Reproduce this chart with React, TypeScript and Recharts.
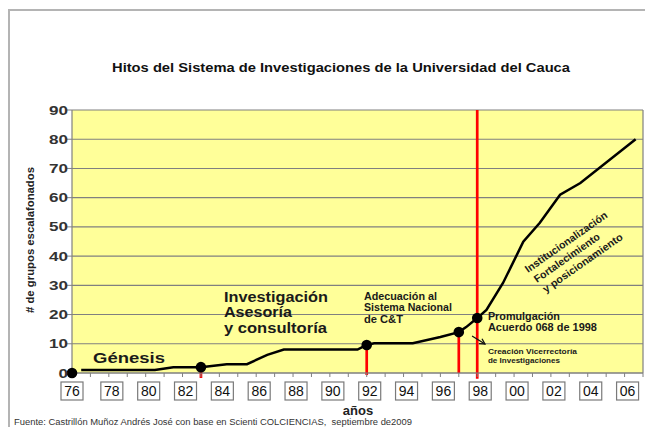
import React from 'react';
import { LineChart, Line, XAxis, YAxis, CartesianGrid, ReferenceLine, ReferenceDot } from 'recharts';

const FONT = '"Liberation Sans", Arial, sans-serif';

// grupos escalafonados por año
const seriesYears = [1976.5, 1980.5, 1981.5, 1983, 1984.4, 1985.5, 1986.6, 1987.5, 1991.5, 1992, 1992.4, 1994.5, 1996, 1997, 1997.4, 1998, 1998.5, 1999.4, 2000.5, 2001.4, 2002.5, 2003.6, 2006.6];
const seriesValues = [1, 1, 2, 2, 3, 3, 6.2, 8, 8, 9.6, 10.2, 10.2, 12.3, 14, 15.7, 18.8, 21.6, 30.8, 44.9, 51.4, 61, 65, 80];

const yTicks = [0, 10, 20, 30, 40, 50, 60, 70, 80, 90];
const xTickYears = [
  1976, 1977, 1978, 1979, 1980, 1981, 1982, 1983, 1984, 1985, 1986, 1987, 1988, 1989, 1990, 1991,
  1992, 1993, 1994, 1995, 1996, 1997, 1998, 1999, 2000, 2001, 2002, 2003, 2004, 2005, 2006, 2007,
];
const labelYears = [1976, 1978, 1980, 1982, 1984, 1986, 1988, 1990, 1992, 1994, 1996, 1998, 2000, 2002, 2004, 2006];
const labelTexts = ['76', '78', '80', '82', '84', '86', '88', '90', '92', '94', '96', '98', '00', '02', '04', '06'];

// hitos
const milestoneYears = [1976, 1983, 1992, 1997, 1998];
const milestoneValues = [0, 2, 9.6, 14, 18.8];

// líneas rojas
const redYears = [1983, 1992, 1997, 1998];
const redTop = [2, 9.6, 14, 90];
const redBottom = [-1.7, -0.7, 0, -2];

type Note = {
  year: number;
  value: number;
  size: number;
  lead: number;
  angle?: number;
  color?: string;
  lines: { text: string; width: number }[];
};

const notes: Note[] = [
  { year: 1977.14, value: 3.4, size: 15.5, lead: 0, lines: [{ text: 'Génesis', width: 72 }] },
  {
    year: 1984.25, value: 24.3, size: 14.5, lead: 15.5,
    lines: [
      { text: 'Investigación', width: 104 },
      { text: 'Asesoría', width: 68 },
      { text: 'y consultoría', width: 103 },
    ],
  },
  {
    year: 1991.85, value: 25, size: 10.5, lead: 11.5,
    lines: [
      { text: 'Adecuación al', width: 73 },
      { text: 'Sistema Nacional', width: 88 },
      { text: 'de C&T', width: 39 },
    ],
  },
  {
    year: 1998.58, value: 18.1, size: 11, lead: 11,
    lines: [
      { text: 'Promulgación', width: 72 },
      { text: 'Acuerdo 068 de 1998', width: 109 },
    ],
  },
  {
    year: 1998.58, value: 6.5, size: 7.5, lead: 9,
    lines: [
      { text: 'Creación Vicerrectoría', width: 89 },
      { text: 'de Investigaciones', width: 72 },
    ],
  },
  {
    year: 2000.76, value: 34.2, size: 10.5, lead: 13.3, angle: -35,
    lines: [
      { text: 'Institucionalización', width: 98 },
      { text: 'Fortalecimiento', width: 78 },
      { text: 'y posicionamiento', width: 95 },
    ],
  },
];

// flecha hacia "Creación Vicerrectoría"
const arrowFrom = { year: 1997.72, value: 12.66 };
const arrowTo = { year: 1998.42, value: 9.92 };

const data = seriesYears.map((year, i) => ({ year, value: seriesValues[i] }));

const XTick = (props: any) => {
  const { x, y, payload } = props;
  const i = labelYears.indexOf(payload.value);
  if (i < 0) return null;
  const cx = x + (i > 0 ? 3 : 0);
  return (
    <g>
      <rect x={cx - 11} y={y + 3} width={22} height={18} fill="#fff" stroke="#7a7a7a" strokeWidth={1.2} />
      <text x={cx} y={y + 17} textAnchor="middle" fontSize={14} fill="#111" fontFamily={FONT}>
        {labelTexts[i]}
      </text>
    </g>
  );
};

const YTick = (props: any) => {
  const { x, y, payload } = props;
  const s = String(payload.value);
  return (
    <text
      x={x + 1}
      y={y + 4.5}
      textAnchor="end"
      fontSize={12.5}
      fontWeight="bold"
      fill="#333"
      fontFamily={FONT}
      textLength={s.length * 9.5}
      lengthAdjust="spacingAndGlyphs"
    >
      {s}
    </text>
  );
};

const NoteText = ({ cx, cy, note }: { cx: number; cy: number; note: Note }) => (
  <g transform={`translate(${cx},${cy}) rotate(${note.angle || 0})`}>
    {note.lines.map((l, i) => (
      <text
        key={i}
        x={note.angle ? i * 1.5 : 0}
        y={i * note.lead}
        fontSize={note.size}
        fontWeight="bold"
        fill="#1a1a1a"
        fontFamily={FONT}
        textLength={l.width}
        lengthAdjust="spacingAndGlyphs"
      >
        {l.text}
      </text>
    ))}
  </g>
);

const Arrow = (props: any) => {
  const { x1, y1, x2, y2 } = props;
  const a = Math.atan2(y2 - y1, x2 - x1);
  const h = 6;
  return (
    <g stroke="#111" strokeWidth={1.3} fill="none">
      <line x1={x1} y1={y1} x2={x2} y2={y2} />
      <polyline
        points={`${x2 - h * Math.cos(a - 0.5)},${y2 - h * Math.sin(a - 0.5)} ${x2},${y2} ${x2 - h * Math.cos(a + 0.5)},${y2 - h * Math.sin(a + 0.5)}`}
      />
    </g>
  );
};

export default function App() {
  return (
    <div style={{ position: 'absolute', left: 0, top: 0, width: 645, height: 427, overflow: 'hidden', background: '#fff' }}>
      <div
        style={{
          position: 'absolute', left: 8, top: 9, width: 700, height: 500,
          borderLeft: '2px solid #b4b4b4', borderTop: '2px solid #b4b4b4',
        }}
      />
      <LineChart
        width={645}
        height={427}
        data={data}
        margin={{ top: 110, right: 2, left: 0, bottom: 14 }}
        style={{ position: 'absolute', left: 0, top: 0 }}
      >
        <CartesianGrid vertical={false} stroke="#808080" strokeWidth={1.1} fill="#FFFF99" />
        <XAxis
          dataKey="year"
          type="number"
          domain={[1976, 2007]}
          ticks={xTickYears}
          interval={0}
          height={40}
          tickSize={4}
          axisLine={{ stroke: '#808080', strokeWidth: 1.2 }}
          tickLine={{ stroke: '#808080' }}
          tick={<XTick />}
        />
        <YAxis
          domain={[0, 90]}
          ticks={yTicks}
          interval={0}
          width={72}
          tickSize={5}
          tickMargin={0}
          axisLine={{ stroke: '#808080', strokeWidth: 1.2 }}
          tickLine={{ stroke: '#808080' }}
          tick={<YTick />}
        />
        <ReferenceLine x={2007} stroke="#808080" strokeWidth={1.2} ifOverflow="visible" />
        {redYears.map((yr, i) => (
          <ReferenceLine
            key={'r' + yr}
            segment={[{ x: yr, y: redBottom[i] }, { x: yr, y: redTop[i] }]}
            stroke="#ff0000"
            strokeWidth={2.7}
            ifOverflow="visible"
          />
        ))}
        <Line
          type="linear"
          dataKey="value"
          stroke="#000"
          strokeWidth={2.5}
          dot={false}
          isAnimationActive={false}
        />
        {milestoneYears.map((yr, i) => (
          <ReferenceDot
            key={'m' + yr}
            x={yr}
            y={milestoneValues[i]}
            r={5.3}
            fill="#000"
            stroke="#000"
            strokeWidth={0}
            ifOverflow="visible"
          />
        ))}
        <ReferenceLine
          segment={[{ x: arrowFrom.year, y: arrowFrom.value }, { x: arrowTo.year, y: arrowTo.value }]}
          ifOverflow="visible"
          shape={(p: any) => <Arrow {...p} />}
        />
        {notes.map((n, i) => (
          <ReferenceDot
            key={'n' + i}
            x={n.year}
            y={n.value}
            r={0}
            ifOverflow="visible"
            shape={(p: any) => <NoteText cx={p.cx} cy={p.cy} note={n} />}
          />
        ))}
      </LineChart>
      <svg width={645} height={427} style={{ position: 'absolute', left: 0, top: 0, pointerEvents: 'none' }}>
        <text x={341} y={72} textAnchor="middle" fontSize={13.5} fontWeight="bold" fill="#111" fontFamily={FONT} textLength={458} lengthAdjust="spacingAndGlyphs">
          Hitos del Sistema de Investigaciones de la Universidad del Cauca
        </text>
        <text
          x={34}
          y={240}
          transform="rotate(-90 34 240)"
          textAnchor="middle"
          fontSize={11.5}
          fontWeight="bold"
          fill="#222"
          fontFamily={FONT}
          textLength={146}
          lengthAdjust="spacingAndGlyphs"
        >
          # de grupos escalafonados
        </text>
        <text x={358} y={415} textAnchor="middle" fontSize={13} fontWeight="bold" fill="#222" fontFamily={FONT}>
          años
        </text>
        <text x={14} y={425} fontSize={8.5} fill="#333" fontFamily={FONT} textLength={398} lengthAdjust="spacingAndGlyphs" style={{ whiteSpace: 'pre' }}>
          {'Fuente: Castrillón Muñoz Andrés José con base en Scienti COLCIENCIAS,  septiembre de2009'}
        </text>
      </svg>
    </div>
  );
}
